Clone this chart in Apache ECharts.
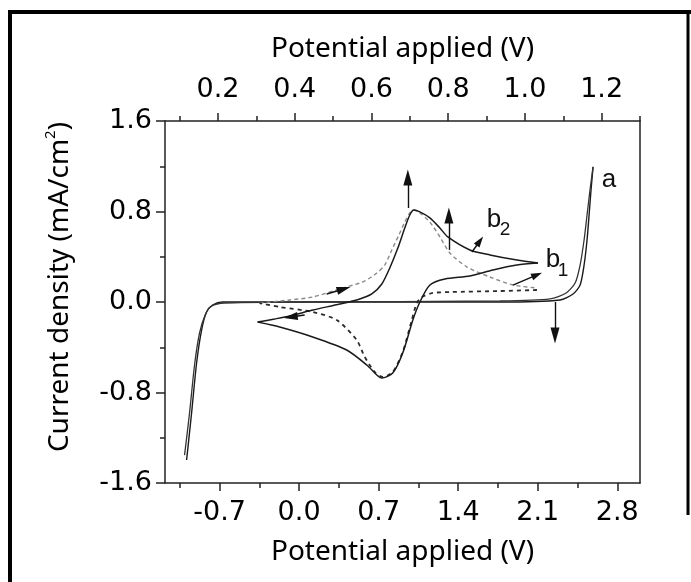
<!DOCTYPE html>
<html><head><meta charset="utf-8">
<script src="https://cdn.jsdelivr.net/npm/echarts@6/dist/echarts.min.js"></script>
<style>html,body{margin:0;padding:0;background:#fff}#c{width:691px;height:582px}</style>
</head><body><div id="c"></div>
<script>
// ---- tick labels ----
const xBottomTicks = [-0.7, 0.0, 0.7, 1.4, 2.1, 2.8];
const xBottomMinor = [-1.05, -0.35, 0.35, 1.05, 1.75, 2.45];
const xTopTicks = [0.2, 0.4, 0.6, 0.8, 1.0, 1.2];
const xTopMinor = [0.1, 0.3, 0.5, 0.7, 0.9, 1.1, 1.3];

// ---- curve a (blank) ----
const aOutX = [-0.990,-0.946,-0.902,-0.858,-0.814,-0.761,-0.673,0.005,0.886,1.768,2.296,2.411,2.473,2.508,2.534,2.552,2.569,2.587];
const aOutY = [-1.397,-0.981,-0.539,-0.248,-0.088,-0.027,0.000,0.000,0.000,0.000,0.018,0.071,0.150,0.327,0.548,0.769,0.990,1.194];
const aBackX = [2.587,2.560,2.534,2.508,2.473,2.429,2.350,2.209,1.768,0.005,-0.656,-0.770,-0.823,-0.876,-0.920,-0.964,-1.008];
const aBackY = [1.194,0.990,0.769,0.548,0.327,0.168,0.080,0.027,0.009,0.000,-0.009,-0.035,-0.106,-0.274,-0.557,-0.981,-1.353];

// ---- curve b2 (solid) ----
const b2FwdX = [-0.365,-0.215,-0.083,0.120,0.358,0.534,0.640,0.728,0.798,0.869,0.930,0.974,1.010,1.063,1.151,1.239,1.309,1.503,1.679,1.917,2.102];
const b2FwdY = [-0.177,-0.150,-0.124,-0.071,-0.018,0.027,0.071,0.159,0.301,0.477,0.654,0.769,0.813,0.796,0.743,0.654,0.575,0.460,0.416,0.371,0.345];
const b2RevX = [2.102,1.917,1.706,1.503,1.283,1.151,1.063,1.001,0.912,0.824,0.728,0.684,0.596,0.419,0.120,-0.171,-0.365];
const b2RevY = [0.345,0.327,0.283,0.230,0.203,0.150,0.000,-0.159,-0.451,-0.628,-0.672,-0.645,-0.557,-0.424,-0.309,-0.221,-0.177];

// ---- curve b1 (dashed) ----
const b1FwdX = [-0.348,-0.083,0.120,0.384,0.560,0.684,0.754,0.816,0.878,0.930,0.974,1.010,1.063,1.151,1.239,1.327,1.477,1.679,1.882,2.093];
const b1FwdY = [-0.009,0.018,0.044,0.124,0.177,0.256,0.327,0.460,0.592,0.707,0.787,0.813,0.787,0.707,0.575,0.433,0.309,0.221,0.150,0.124];
const b1RevX = [2.093,1.767,1.327,1.178,1.081,1.036,0.992,0.912,0.824,0.736,0.666,0.578,0.507,0.331,0.120,-0.171,-0.348];
const b1RevY = [0.106,0.097,0.088,0.080,0.044,-0.009,-0.159,-0.442,-0.619,-0.663,-0.619,-0.486,-0.336,-0.159,-0.088,-0.044,-0.009];

// ---- annotation arrows (data units: start / end) ----
const arrowStart = [[0.957,0.831],[1.318,0.460],[2.252,0.000],[1.521,0.442],[1.882,0.150],[0.243,0.071],[0.049,-0.115]];
const arrowEnd   = [[0.957,1.101],[1.318,0.765],[2.252,-0.296],[1.591,0.539],[2.093,0.239],[0.393,0.115],[-0.074,-0.133]];
const arrowKind  = ['big','big','big','small','small','mid','mid'];

// ---- annotation texts ----
const noteText = ['a','b','2','b','1'];
const noteAt = [[2.728,1.079],[1.715,0.725],[1.812,0.637],[2.234,0.371],[2.323,0.274]];
const noteKind = ['main','main','sub','main','sub'];

const zip = (xs, ys) => xs.map((x, i) => [x, ys[i]]);
const fmt1 = v => Number(v).toFixed(1);
const AX = '#222';
const TICKFONT = {fontFamily: 'DejaVu Sans', fontSize: 27, color: '#000'};
const NAMEFONT = {fontFamily: 'Noto Sans', fontSize: 28, color: '#000'};
const arrowPath = 'path://M5,0 L10,16 L0,16 Z';
const arrowSize = {big: [9, 16], mid: [8, 14], small: [7, 11]};

const chart = echarts.init(document.getElementById('c'), null, {renderer: 'canvas'});

function lineSeries(name, xs, ys, style, extra) {
  return Object.assign({
    name, type: 'line', xAxisIndex: 0, yAxisIndex: 0,
    data: zip(xs, ys), showSymbol: false, symbol: 'none', smooth: 0.25,
    lineStyle: style, silent: true, animation: false, z: 3
  }, extra || {});
}

const option = {
  animation: false,
  backgroundColor: '#fff',
  grid: {left: 165, right: 51, top: 121, bottom: 99, containLabel: false},
  xAxis: [
    { type: 'value', position: 'bottom', min: -1.18, max: 3.0,
      name: 'Potential applied (V)', nameLocation: 'middle', nameGap: 55, nameTextStyle: NAMEFONT,
      axisLine: {show: true, onZero: false, lineStyle: {color: AX, width: 1.5}},
      axisTick: {show: true, inside: false, length: 8, customValues: xBottomTicks, lineStyle: {color: AX, width: 1.5}},
      axisLabel: Object.assign({show: true, margin: 16, customValues: xBottomTicks, formatter: fmt1}, TICKFONT),
      splitLine: {show: false} },
    { type: 'value', position: 'top', min: 0.062, max: 1.3,
      name: 'Potential applied (V)', nameLocation: 'middle', nameGap: 58, nameTextStyle: NAMEFONT,
      axisLine: {show: true, onZero: false, lineStyle: {color: AX, width: 1.5}},
      axisTick: {show: true, inside: false, length: 8, customValues: xTopTicks, lineStyle: {color: AX, width: 1.5}},
      axisLabel: Object.assign({show: true, margin: 18, customValues: xTopTicks, formatter: fmt1}, TICKFONT),
      splitLine: {show: false} },
    { type: 'value', position: 'bottom', offset: 0, min: -1.18, max: 3.0,
      axisLine: {show: false, onZero: false},
      axisTick: {show: true, inside: false, length: 5, customValues: xBottomMinor, lineStyle: {color: AX, width: 1.5}},
      axisLabel: {show: false}, splitLine: {show: false} },
    { type: 'value', position: 'top', offset: 0, min: 0.062, max: 1.3,
      axisLine: {show: false, onZero: false},
      axisTick: {show: true, inside: false, length: 5, customValues: xTopMinor, lineStyle: {color: AX, width: 1.5}},
      axisLabel: {show: false}, splitLine: {show: false} }
  ],
  yAxis: [
    { type: 'value', position: 'left', min: -1.6, max: 1.6, interval: 0.8,
      name: 'Current density (mA/cm{sup|2})', nameLocation: 'middle', nameGap: 88,
      nameTextStyle: Object.assign({}, NAMEFONT, {padding: [0, 0, 0, 30], rich: {sup: {fontFamily: 'Noto Sans', fontSize: 15, color: '#000', verticalAlign: 'top', lineHeight: 34}}}),
      axisLine: {show: true, onZero: false, lineStyle: {color: AX, width: 1.5}},
      axisTick: {show: true, inside: false, length: 9, lineStyle: {color: AX, width: 1.5}},
      minorTick: {show: true, splitNumber: 2, length: 5, lineStyle: {color: AX, width: 1.5}},
      axisLabel: Object.assign({show: true, margin: 13, formatter: fmt1}, TICKFONT),
      splitLine: {show: false} },
    { type: 'value', position: 'right', min: -1.6, max: 1.6, interval: 0.8,
      axisLine: {show: true, onZero: false, lineStyle: {color: AX, width: 1.5}},
      axisTick: {show: false}, axisLabel: {show: false}, splitLine: {show: false} }
  ],
  series: [
    lineSeries('a-out', aOutX, aOutY, {color: '#1a1a1a', width: 1.4}),
    lineSeries('a-back', aBackX, aBackY, {color: '#333', width: 1.3}),
    lineSeries('b1-fwd', b1FwdX, b1FwdY, {color: '#8a8a8a', width: 1.4, type: [4, 3]}),
    lineSeries('b1-rev', b1RevX, b1RevY, {color: '#2a2a2a', width: 1.8, type: [4, 4]}),
    lineSeries('b2-fwd', b2FwdX, b2FwdY, {color: '#1a1a1a', width: 1.5}),
    lineSeries('b2-rev', b2RevX, b2RevY, {color: '#1a1a1a', width: 1.5}, {
      markLine: {
        silent: true, animation: false,
        lineStyle: {color: '#111', width: 1.4, type: 'solid'},
        label: {show: false}, emphasis: {disabled: true},
        data: arrowStart.map((s, i) => [
          {coord: s, symbol: 'none'},
          {coord: arrowEnd[i], symbol: arrowPath, symbolSize: arrowSize[arrowKind[i]]}
        ])
      },
      markPoint: {
        silent: true, animation: false,
        symbol: 'circle', symbolSize: 0, itemStyle: {color: 'rgba(0,0,0,0)'},
        data: noteAt.map((p, i) => ({
          coord: p, value: noteText[i],
          label: {show: true, position: 'inside', formatter: noteText[i],
            fontFamily: 'Liberation Sans', color: '#111',
            fontSize: noteKind[i] === 'main' ? 26 : 19}
        }))
      }
    })
  ],
  graphic: [
    {type: 'line', shape: {x1: 10, y1: 10, x2: 10, y2: 582}, style: {stroke: '#000', lineWidth: 4}, silent: true},
    {type: 'line', shape: {x1: 8, y1: 12, x2: 691, y2: 12}, style: {stroke: '#000', lineWidth: 4}, silent: true},
    {type: 'line', shape: {x1: 688, y1: 10, x2: 688, y2: 515}, style: {stroke: '#000', lineWidth: 3}, silent: true}
  ]
};
chart.setOption(option);
</script></body></html>
